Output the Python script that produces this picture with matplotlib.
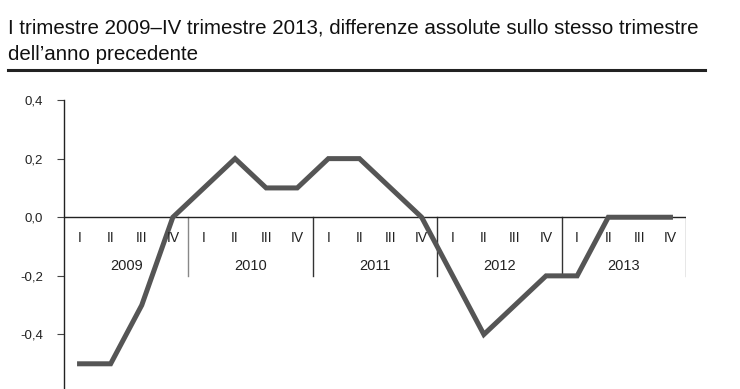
import matplotlib
matplotlib.use("Agg")
import matplotlib.pyplot as plt

years = ["2009", "2010", "2011", "2012", "2013"]
quarters = ["I", "II", "III", "IV"]
values = [-0.5, -0.5, -0.3, 0.0,
          0.1, 0.2, 0.1, 0.1,
          0.2, 0.2, 0.1, 0.0,
          -0.2, -0.4, -0.3, -0.2,
          -0.2, 0.0, 0.0, 0.0]
yticks = [-0.4, -0.2, 0.0, 0.2, 0.4]
ytick_labels = ["-0,4", "-0,2", "0,0", "0,2", "0,4"]
title_lines = ["I trimestre 2009\u2013IV trimestre 2013, differenze assolute sullo stesso trimestre",
               "dell\u2019anno precedente"]

plt.rcParams["font.family"] = ["Liberation Sans", "DejaVu Sans"]

W, H = 740, 389
fig = plt.figure(figsize=(W / 100, H / 100), dpi=100)
ax = fig.add_axes([64 / W, 0, 622 / W, 289 / H])

n = len(values)
xs = [i + 0.5 for i in range(n)]
ax.plot(xs, values, color="#555555", lw=3.6, solid_joinstyle="miter", zorder=3)

ax.set_xlim(0, n)
ax.set_ylim(-0.586, 0.4)
ax.axhline(0, color="#222222", lw=1.0, zorder=2)

for s in ["top", "right", "bottom"]:
    ax.spines[s].set_visible(False)
ax.spines["left"].set_color("#222222")
ax.spines["left"].set_linewidth(1.0)
ax.set_xticks([])
ax.set_yticks(yticks)
ax.set_yticklabels(ytick_labels, fontsize=9.5, color="#222222")
ax.tick_params(axis="y", length=5, width=0.8, color="#444444", pad=10)

# quarter and year labels
for i, x in enumerate(xs):
    ax.text(x, -0.072, quarters[i % 4], ha="center", va="center", fontsize=10, color="#222222")
for k, yr in enumerate(years):
    ax.text(k * 4 + 2, -0.165, yr, ha="center", va="center", fontsize=10.5, color="#222222")
for k in range(1, len(years) + 1):
    col = "#888888" if k in (1, len(years)) else "#333333"
    ax.plot([k * 4, k * 4], [0, -0.2], color=col, lw=1.0, zorder=1)

# title and rule
t1 = fig.text(8 / W, 1 - 28 / H, title_lines[0], fontsize=13, ha="left", va="center", color="#111111")
fig.canvas.draw()
w = t1.get_window_extent().width
fs = 13 * 692 / w
t1.set_fontsize(fs)
fig.text(8 / W, 1 - 55 / H, title_lines[1], fontsize=fs, ha="left", va="center", color="#111111")
fig.add_artist(plt.Line2D([8 / W, 705 / W], [1 - 70 / H, 1 - 70 / H], color="#222222", lw=2.2))

fig.savefig("out.png", dpi=100)
